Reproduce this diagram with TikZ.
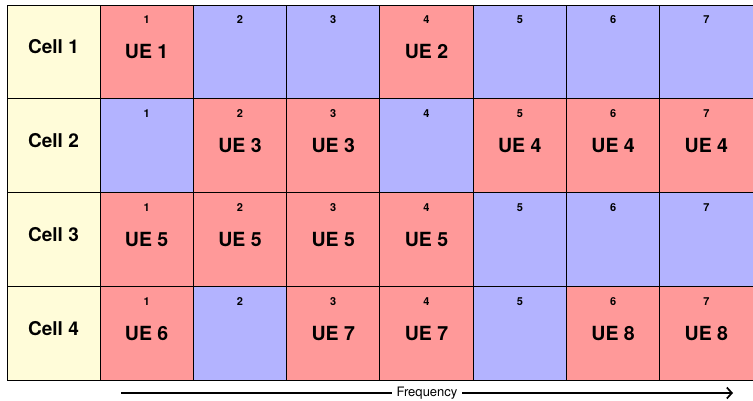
\documentclass[tikz,border=0pt]{standalone}
\usepackage{fontspec}
\setsansfont{TeX Gyre Heros}
\usetikzlibrary{positioning,arrows.meta}

\definecolor{cellyellow}{HTML}{FFFCD9}
\definecolor{uered}{HTML}{FF9999}
\definecolor{freeblue}{HTML}{B3B3FF}

\begin{document}
\begin{tikzpicture}[
    font=\sffamily,
    x=1pt, y=1pt,
    node distance=0pt,
    cellhd/.style ={draw, line width=0.9pt, fill=cellyellow, outer sep=0pt,
                    inner sep=0pt, minimum width=93pt, minimum height=93.75pt,
                    text height=14pt, text depth=10pt,
                    font=\sffamily\bfseries\fontsize{19}{19}\selectfont},
    slot/.style   ={draw, line width=0.9pt, outer sep=0pt, inner sep=0pt,
                    minimum width=93.29pt, minimum height=93.75pt,
                    font=\sffamily\bfseries\fontsize{19.5}{19.5}\selectfont},
    used/.style   ={slot, fill=uered},
    free/.style   ={slot, fill=freeblue},
    num/.style    ={font=\sffamily\bfseries\fontsize{11}{11}\selectfont,
                    anchor=center, yshift=-15pt, inner sep=0pt},
    lbl/.style    ={font=\sffamily\fontsize{13}{13}\selectfont, fill=white,
                    inner xsep=5pt, inner ysep=2pt},
    freq/.style   ={-{Straight Barb[length=5pt, width=11pt]}, line width=1.7pt},
  ]

  \useasboundingbox (0,0) rectangle (753,-401);

  % ------------------------------------------------------------- cell names ---
  \node[cellhd, anchor=north west] (cell1) at (7,-5) {Cell 1};
  \node[cellhd, below=of cell1] (cell2) {Cell 2};
  \node[cellhd, below=of cell2] (cell3) {Cell 3};
  \node[cellhd, below=of cell3] (cell4) {Cell 4};

  % ----------------------------------------------------------------- cell 1 ---
  \node[used, right=of cell1, label={[num]north:1}] (s11) {UE 1};
  \node[free, right=of s11,   label={[num]north:2}] (s12) {};
  \node[free, right=of s12,   label={[num]north:3}] (s13) {};
  \node[used, right=of s13,   label={[num]north:4}] (s14) {UE 2};
  \node[free, right=of s14,   label={[num]north:5}] (s15) {};
  \node[free, right=of s15,   label={[num]north:6}] (s16) {};
  \node[free, right=of s16,   label={[num]north:7}] (s17) {};

  % ----------------------------------------------------------------- cell 2 ---
  \node[free, right=of cell2, label={[num]north:1}] (s21) {};
  \node[used, right=of s21,   label={[num]north:2}] (s22) {UE 3};
  \node[used, right=of s22,   label={[num]north:3}] (s23) {UE 3};
  \node[free, right=of s23,   label={[num]north:4}] (s24) {};
  \node[used, right=of s24,   label={[num]north:5}] (s25) {UE 4};
  \node[used, right=of s25,   label={[num]north:6}] (s26) {UE 4};
  \node[used, right=of s26,   label={[num]north:7}] (s27) {UE 4};

  % ----------------------------------------------------------------- cell 3 ---
  \node[used, right=of cell3, label={[num]north:1}] (s31) {UE 5};
  \node[used, right=of s31,   label={[num]north:2}] (s32) {UE 5};
  \node[used, right=of s32,   label={[num]north:3}] (s33) {UE 5};
  \node[used, right=of s33,   label={[num]north:4}] (s34) {UE 5};
  \node[free, right=of s34,   label={[num]north:5}] (s35) {};
  \node[free, right=of s35,   label={[num]north:6}] (s36) {};
  \node[free, right=of s36,   label={[num]north:7}] (s37) {};

  % ----------------------------------------------------------------- cell 4 ---
  \node[used, right=of cell4, label={[num]north:1}] (s41) {UE 6};
  \node[free, right=of s41,   label={[num]north:2}] (s42) {};
  \node[used, right=of s42,   label={[num]north:3}] (s43) {UE 7};
  \node[used, right=of s43,   label={[num]north:4}] (s44) {UE 7};
  \node[free, right=of s44,   label={[num]north:5}] (s45) {};
  \node[used, right=of s45,   label={[num]north:6}] (s46) {UE 8};
  \node[used, right=of s46,   label={[num]north:7}] (s47) {UE 8};

  % -------------------------------------------------------- frequency axis ---
  \coordinate (fstart) at (121,-393);
  \coordinate (fend)   at (733,-393);
  \draw[freq] (fstart) -- (fend) node[lbl, midway] {Frequency};

\end{tikzpicture}
\end{document}
